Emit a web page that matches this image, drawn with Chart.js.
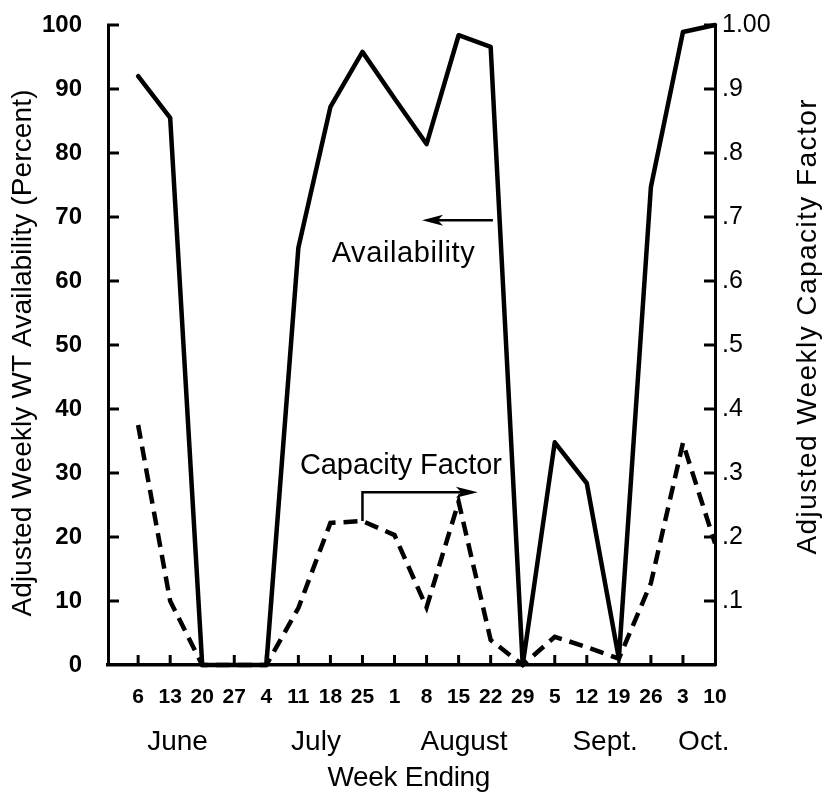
<!DOCTYPE html>
<html>
<head>
<meta charset="utf-8">
<script src="https://cdn.jsdelivr.net/npm/chart.js@4.4.1/dist/chart.umd.min.js"></script>
<style>
html,body{margin:0;padding:0;background:#fff;}
#wrap{width:823px;height:792px;}
</style>
</head>
<body>
<div id="wrap"><canvas id="c" width="823" height="792"></canvas></div>
<script>
// ---- data ----
const weekLabels = ['6','13','20','27','4','11','18','25','1','8','15','22','29','5','12','19','26','3','10'];
const availability = [92, 85.5, 0, 0, 0, 65.2, 87.2, 95.8, 88.5, 81.4, 98.4, 96.6, 0, 34.8, 28.4, 1, 74.7, 98.9, 100];
const capacityFactor = [0.375, 0.10, 0, 0, 0, 0.089, 0.222, 0.225, 0.203, 0.09, 0.255, 0.039, 0, 0.044, 0.028, 0.01, 0.128, 0.347, 0.19];
const availTickValues = [0,10,20,30,40,50,60,70,80,90,100];
const availTickLabels = ['0','10','20','30','40','50','60','70','80','90','100'];
const cfTickValues = [0,0.1,0.2,0.3,0.4,0.5,0.6,0.7,0.8,0.9,1.0];
const cfTickLabels = ['','.1','.2','.3','.4','.5','.6','.7','.8','.9','1.00'];
const monthLabels = ['June','July','August','Sept.','Oct.'];
const monthCenters = [1.23, 5.55, 10.17, 14.57, 17.65];

const FONT = "'Liberation Sans', Arial, Helvetica, sans-serif";
const NOGRID = 'rgba(0,0,0,0)';

function drawText(ctx, text, cx, by, size, weight, target, rot){
  ctx.save();
  ctx.font = weight + ' ' + size + 'px ' + FONT;
  ctx.fillStyle = '#000';
  ctx.textAlign = 'left';
  ctx.textBaseline = 'alphabetic';
  const hasLS = ('letterSpacing' in ctx);
  if (hasLS) ctx.letterSpacing = '0px';
  const w0 = ctx.measureText(text).width;
  let sp = 0;
  if (target && hasLS && text.length > 1) {
    sp = (target - w0) / (text.length - 1);
    ctx.letterSpacing = sp + 'px';
  }
  const w = w0 + sp * (text.length - 1);
  ctx.translate(cx, by);
  if (rot) ctx.rotate(rot);
  ctx.fillText(text, -w / 2, 0);
  ctx.restore();
}

function seg(ctx, x1, y1, x2, y2){
  ctx.beginPath(); ctx.moveTo(x1, y1); ctx.lineTo(x2, y2); ctx.stroke();
}
function head(ctx, tipX, tipY, dir, len, hw){
  ctx.beginPath();
  ctx.moveTo(tipX, tipY);
  ctx.lineTo(tipX - dir * len, tipY - hw);
  ctx.lineTo(tipX - dir * len * 0.75, tipY);
  ctx.lineTo(tipX - dir * len, tipY + hw);
  ctx.closePath();
  ctx.fill();
}

const decor = {
  id: 'decor',
  afterDraw(chart){
    const ctx = chart.ctx, ca = chart.chartArea;
    const x = chart.scales.x, yA = chart.scales.yA, yC = chart.scales.yC;
    ctx.save();
    ctx.strokeStyle = '#000'; ctx.fillStyle = '#000';
    ctx.lineWidth = 3; ctx.lineCap = 'butt';
    // inward tick marks
    availTickValues.forEach(v => { if (v === 0) return; const py = yA.getPixelForValue(v); seg(ctx, ca.left - 1, py, ca.left + 11, py); });
    cfTickValues.forEach(v => { if (v === 0) return; const py = yC.getPixelForValue(v); seg(ctx, ca.right - 11, py, ca.right + 1, py); });
    weekLabels.forEach((_, i) => { if (i === weekLabels.length - 1) return; const px = x.getPixelForValue(i); seg(ctx, px, ca.bottom, px, ca.bottom - 10); });

    // Availability arrow (pointing left)
    ctx.lineWidth = 2.5;
    const ay = yA.getPixelForValue(69.5);
    const ax1 = x.getPixelForValue(11.07), ax2 = x.getPixelForValue(8.86);
    seg(ctx, ax1, ay, ax2 + 10, ay);
    head(ctx, ax2, ay, -1, 21, 5.5);
    drawText(ctx, 'Availability', x.getPixelForValue(8.27), yA.getPixelForValue(63.0), 29, 'normal', 143, 0);

    // Capacity Factor arrow (up then right)
    const cx0 = x.getPixelForValue(7);
    const cyTop = yC.getPixelForValue(0.27);
    const cyBot = yC.getPixelForValue(capacityFactor[7]);
    const cx1 = x.getPixelForValue(10.6);
    ctx.lineWidth = 2.5;
    ctx.beginPath(); ctx.moveTo(cx0, cyBot); ctx.lineTo(cx0, cyTop); ctx.lineTo(cx1 - 10, cyTop); ctx.stroke();
    head(ctx, cx1, cyTop, 1, 22, 5.5);
    drawText(ctx, 'Capacity Factor', x.getPixelForValue(8.2), yC.getPixelForValue(0.298), 29, 'normal', 202, 0);

    // month labels & x title
    monthLabels.forEach((m, i) => drawText(ctx, m, x.getPixelForValue(monthCenters[i]), ca.bottom + 85, 28, 'normal', 0, 0));
    drawText(ctx, 'Week Ending', x.getPixelForValue(8.45), ca.bottom + 121, 28, 'normal', 163, 0);

    // axis titles (both read bottom-to-top)
    drawText(ctx, 'Adjusted Weekly WT Availability (Percent)', 31, 353, 28, 'normal', 527, -Math.PI / 2);
    drawText(ctx, 'Adjusted Weekly Capacity Factor', 816, 327, 28, 'normal', 455, -Math.PI / 2);
    ctx.restore();
  }
};

new Chart(document.getElementById('c'), {
  type: 'line',
  data: {
    labels: weekLabels,
    datasets: [
      {
        label: 'Availability',
        data: availability.map((v, i) => ({x: i, y: v})),
        yAxisID: 'yA',
        borderColor: '#000',
        borderWidth: 4.5,
        pointRadius: 0,
        tension: 0,
        fill: false,
        clip: false,
        borderJoinStyle: 'round',
        borderCapStyle: 'round'
      },
      {
        label: 'Capacity Factor',
        data: capacityFactor.map((v, i) => ({x: i, y: v})),
        yAxisID: 'yC',
        borderColor: '#000',
        borderWidth: 4.5,
        borderDash: [14, 8],
        pointRadius: 0,
        tension: 0,
        fill: false,
        clip: false,
        borderJoinStyle: 'miter',
        borderCapStyle: 'butt'
      }
    ]
  },
  options: {
    responsive: false,
    animation: false,
    devicePixelRatio: 1,
    layout: {padding: {top: 25, left: 0, right: 0, bottom: 0}},
    plugins: {legend: {display: false}, tooltip: {enabled: false}},
    scales: {
      x: {
        type: 'linear',
        min: -0.94,
        max: 18,
        grid: {display: false, drawOnChartArea: false, drawTicks: true, tickLength: 18, color: NOGRID},
        border: {display: true, width: 3.5, color: '#000'},
        afterBuildTicks: s => { s.ticks = weekLabels.map((_, i) => ({value: i})); },
        afterFit: s => { s.height = 127; },
        ticks: {
          autoSkip: false, maxRotation: 0, minRotation: 0, padding: 2,
          color: '#000',
          font: {family: FONT, size: 21, weight: 'bold'},
          callback: (v, i) => weekLabels[i]
        }
      },
      yA: {
        type: 'linear', position: 'left', min: 0, max: 100,
        grid: {display: false, drawOnChartArea: false, drawTicks: true, tickLength: 24, color: NOGRID},
        border: {display: true, width: 3, color: '#000'},
        afterBuildTicks: s => { s.ticks = availTickValues.map(v => ({value: v})); },
        afterFit: s => { s.width = 108; },
        ticks: {
          padding: 2, color: '#000',
          font: {family: FONT, size: 24, weight: 'bold'},
          callback: (v, i) => availTickLabels[i]
        }
      },
      yC: {
        type: 'linear', position: 'right', min: 0, max: 1,
        grid: {display: false, drawOnChartArea: false, drawTicks: true, tickLength: 5, color: NOGRID},
        border: {display: true, width: 3, color: '#000'},
        afterBuildTicks: s => { s.ticks = cfTickValues.map(v => ({value: v})); },
        afterFit: s => { s.width = 108; },
        ticks: {
          padding: 2, color: '#000',
          font: {family: FONT, size: 25, weight: 'normal'},
          callback: (v, i) => cfTickLabels[i]
        }
      }
    }
  },
  plugins: [decor]
});
</script>
</body>
</html>
